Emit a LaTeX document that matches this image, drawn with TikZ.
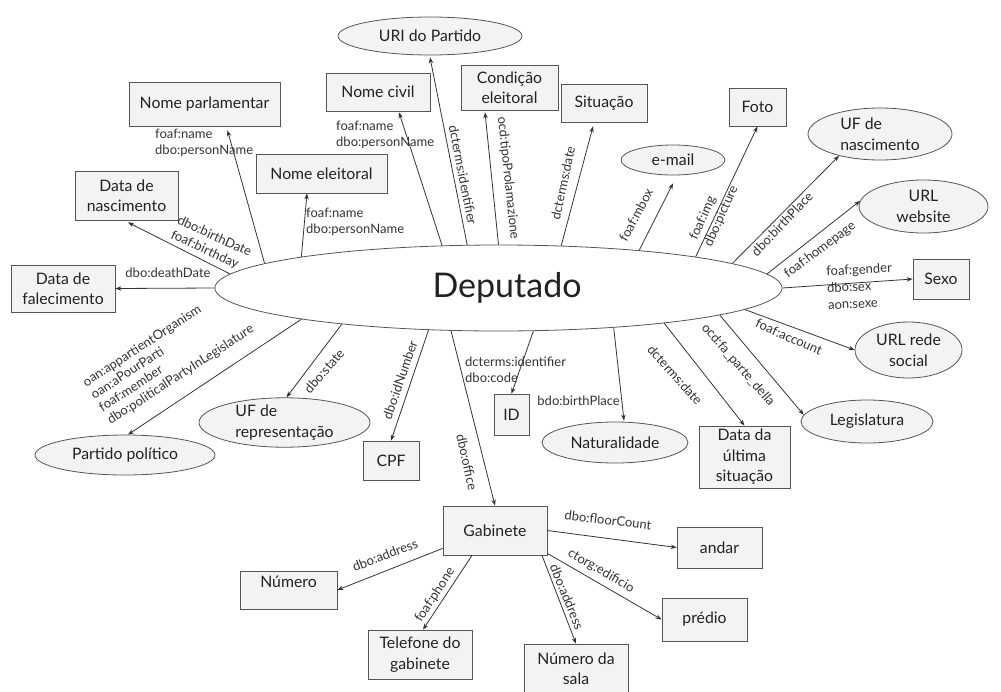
\documentclass[tikz,border=0pt]{standalone}
\usepackage{fontspec}
\setmainfont{Lato}
\usetikzlibrary{shapes.geometric,arrows.meta}
\definecolor{boxfill}{HTML}{F3F3F3}
\definecolor{boxline}{HTML}{555555}
\definecolor{linec}{HTML}{333333}
\definecolor{txt}{HTML}{222222}
\definecolor{lbltxt}{HTML}{333333}
\tikzset{
  box/.style={rectangle, draw=boxline, fill=boxfill, line width=0.8pt, inner sep=0pt, align=center, text=txt, font=\fontsize{15.8}{20.5}\selectfont},
  ell/.style={ellipse, draw=boxline, fill=boxfill, line width=0.8pt, inner sep=0pt, align=center, text=txt, font=\fontsize{15.8}{20.5}\selectfont},
  lbl/.style={inner sep=0pt, align=left, text=lbltxt, font=\fontsize{13}{16}\selectfont},
  conn/.style={draw=linec, line width=0.8pt, -{Stealth[length=6pt,width=4.5pt]}}
}
\begin{document}
\begin{tikzpicture}[x=1pt,y=-1pt]
\useasboundingbox (0,0) rectangle (1001,691);
\fill[white] (0,0) rectangle (1001,691);
% central node
\node[ell, minimum width=567pt, minimum height=86pt, fill=white, font=\fontsize{34}{40}\selectfont] (dep) at (498.5,288) {\hspace*{17pt}Deputado};
% targets
\node[box, minimum width=151pt, minimum height=44pt] (np) at (204.5,104) {Nome parlamentar};
\node[box, minimum width=103pt, minimum height=49pt] (dn) at (126.5,195.5) {Data de\\nascimento};
\node[box, minimum width=104pt, minimum height=47pt] (df) at (63,288.5) {Data de\\falecimento};
\node[box, minimum width=131pt, minimum height=39pt] (ne) at (321.5,173.5) {Nome eleitoral};
\node[box, minimum width=104pt, minimum height=38pt] (nc) at (378,92) {Nome civil};
\node[ell, minimum width=184pt, minimum height=38pt] (uri) at (430,36) {URI do Partido};
\node[box, minimum width=97pt, minimum height=45pt] (ce) at (509.5,87.5) {Condição\\eleitoral};
\node[box, minimum width=86pt, minimum height=38pt] (sit) at (604,103) {Situação};
\node[ell, minimum width=104pt, minimum height=30pt] (em) at (673,160) {e-mail};
\node[box, minimum width=57pt, minimum height=38pt] (foto) at (757.5,107) {Foto};
\node[ell, minimum width=144pt, minimum height=52pt, align=left] (ufn) at (880,134) {UF de\\nascimento};
\node[ell, minimum width=129pt, minimum height=53pt] (url) at (923.5,206.5) {URL\\website};
\node[box, minimum width=56pt, minimum height=40pt] (sexo) at (941,279) {Sexo};
\node[ell, minimum width=107pt, minimum height=56pt] (urs) at (908.5,350) {URL rede\\social};
\node[ell, minimum width=132pt, minimum height=43pt] (leg) at (867,421.5) {Legislatura};
\node[box, minimum width=91pt, minimum height=62pt] (dus) at (744.5,457) {Data da\\última\\situação};
\node[ell, minimum width=146pt, minimum height=41pt] (nat) at (615,442.5) {Naturalidade};
\node[box, minimum width=35pt, minimum height=41pt] (id) at (511.5,414.5) {ID};
\node[box, minimum width=104pt, minimum height=49pt] (gab) at (495,530.5) {Gabinete};
\node[box, minimum width=56pt, minimum height=39pt] (cpf) at (391,460.5) {CPF};
\node[ell, minimum width=171pt, minimum height=49pt, align=left] (ufr) at (284.5,422.5) {UF de\\representação};
\node[ell, minimum width=180pt, minimum height=40pt] (pp) at (125,455) {Partido político};
\node[box, minimum width=97pt, minimum height=38pt] (num) at (288.5,590) {\raisebox{3pt}[0pt][0pt]{Número}};
\node[box, minimum width=104pt, minimum height=49pt] (tel) at (420,654.5) {Telefone do\\gabinete};
\node[box, minimum width=104pt, minimum height=49pt] (nds) at (576,668.5) {Número da\\sala};
\node[box, minimum width=85pt, minimum height=43pt] (pred) at (704.5,619.5) {prédio};
\node[box, minimum width=85pt, minimum height=41pt] (andar) at (719.5,547.5) {andar};
% connectors from Deputado
\draw[conn] (dep.174) -- ([xshift=23pt,yshift=-4pt]np.south);
\draw[conn] (dep.177) -- ([xshift=1.5pt,yshift=-2pt]dn.south);
\draw[conn] (dep.180) -- (df.east);
\draw[conn] (dep.171) -- ([xshift=-14.5pt]ne.south);
\draw[conn] (dep.143) -- ([xshift=21pt,yshift=-1pt]nc.south);
\draw[conn] (dep.126) -- ([yshift=-2pt]uri.south);
\draw[conn] (dep.90) -- ([xshift=-24.5pt,yshift=-2pt]ce.south);
\draw[conn] (dep.34) -- ([xshift=-11pt,yshift=-4pt]sit.south);
\draw[conn] (dep.15) -- ([yshift=-8pt]em.south);
\draw[conn] (dep.9) -- (foto.south);
\draw[conn] (dep.6) -- (ufn.208);
\draw[conn] (dep.3) -- (url.175);
\draw[conn] (dep.0) -- (sexo.west);
\draw[conn] (dep.355) -- (urs.west);
\draw[conn] (dep.353) -- (leg.174);
\draw[conn] (dep.348) -- (dus.north);
\draw[conn] (dep.341) -- ([xshift=9pt,yshift=1pt]nat.north);
\draw[conn] (dep.309) -- (id.north);
\draw[conn] (dep.222) -- (gab.north);
\draw[conn] (dep.211) -- (cpf.north);
\draw[conn] (dep.193) -- ([xshift=2pt]ufr.north);
\draw[conn] (dep.189) -- ([xshift=3pt]pp.north);
% connectors from Gabinete
\draw[conn] ([yshift=7pt]gab.south west) -- (num.east);
\draw[conn] ([xshift=-23pt]gab.south) -- ([xshift=3pt]tel.north);
\draw[conn] ([xshift=47pt]gab.south) -- (nds.north);
\draw[conn] (gab.east) -- (andar.west);
\draw[conn] ([yshift=2pt]gab.south east) -- (pred.west);
% labels
\node[lbl, anchor=west] (l1) at (155,143) {foaf:name\\dbo:personName};
\node[lbl, rotate=-24.5] (l2) at (211,244) {dbo:birthDate\\foaf:birthday};
\node[lbl] (l3) at (168,273) {dbo:deathDate};
\node[lbl, anchor=west] (l4) at (306,222) {foaf:name\\dbo:personName};
\node[lbl, anchor=west] (l5) at (336,135) {foaf:name\\dbo:personName};
\node[lbl, rotate=-79] (l6) at (463,175) {dcterms:identifier};
\node[lbl, rotate=-84] (l7) at (508,178) {ocd:tipoProlamazione};
\node[lbl, rotate=78] (l8) at (563,183) {dcterms:date};
\node[lbl, rotate=62] (l9) at (636,215) {foaf:mbox};
\node[lbl, rotate=66] (l10) at (714,213) {foaf:img\\dbo:picture};
\node[lbl, rotate=46.5] (l11) at (782,224) {dbo:birthPlace};
\node[lbl, rotate=37] (l12) at (820,250) {foaf:homepage};
\node[lbl, anchor=west, rotate=3, font=\fontsize{13}{17}\selectfont] (l13) at (827,288) {foaf:gender\\dbo:sex\\aon:sexe};
\node[lbl, rotate=-24] (l14) at (789,337) {foaf:account};
\node[lbl, rotate=-49] (l15) at (738,365) {ocd:fa\_parte\_della};
\node[lbl, rotate=-48] (l16) at (675,375) {dcterms:date};
\node[lbl, anchor=east] (l17) at (620,401) {bdo:birthPlace};
\node[lbl, anchor=west] (l18) at (465,370) {dcterms:identifier\\dbo:code};
\node[lbl, rotate=-77.5] (l19) at (467,462) {dbo:office};
\node[lbl, rotate=71] (l20) at (400,380) {dbo:idNumber};
\node[lbl, rotate=49] (l21) at (324,371) {dbo:state};
\node[lbl, rotate=33, anchor=south west, font=\fontsize{13}{15}\selectfont] (l22) at (112,427) {oan:appartientOrganism\\oan:aPourParti\\foaf:member\\dbo:politicalPartyInLegislature};
\node[lbl, rotate=21] (l23) at (385,555) {dbo:address};
\node[lbl, rotate=57] (l24) at (435,595) {foaf:phone};
\node[lbl, rotate=-68] (l25) at (567,597) {dbo:address};
\node[lbl, rotate=-7] (l26) at (608,520) {dbo:floorCount};
\node[lbl, rotate=-30] (l27) at (601,571) {ctorg:edificio};
\end{tikzpicture}
\end{document}
